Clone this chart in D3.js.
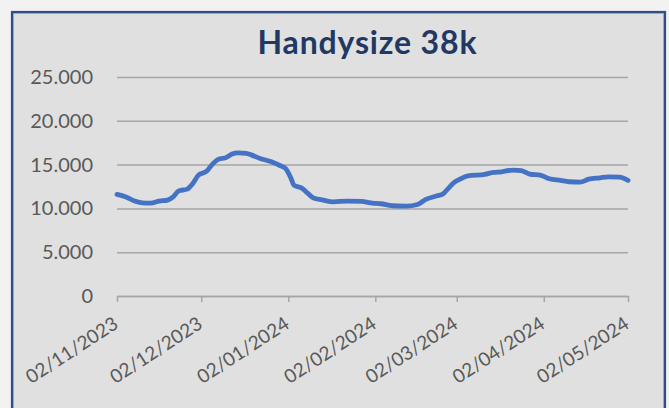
<!DOCTYPE html>
<html>
<head>
<meta charset="utf-8">
<script src="https://cdn.jsdelivr.net/npm/d3@7/dist/d3.min.js"></script>
<style>
  html, body { margin: 0; padding: 0; background: #f2f2f2; }
  svg { display: block; }
</style>
</head>
<body>
<svg id="chart" width="669" height="408"></svg>
<script>
const title = "Handysize 38k";
const dates = [
  "2023-11-02","2023-11-05","2023-11-08","2023-11-11","2023-11-14","2023-11-17","2023-11-20","2023-11-22",
  "2023-11-24","2023-11-27","2023-11-29","2023-12-01","2023-12-04","2023-12-06","2023-12-08","2023-12-11",
  "2023-12-13","2023-12-15","2023-12-18","2023-12-20","2023-12-23","2023-12-27","2023-12-30","2024-01-01",
  "2024-01-03","2024-01-04","2024-01-07","2024-01-09","2024-01-11","2024-01-14","2024-01-18","2024-01-23",
  "2024-01-28","2024-02-01","2024-02-04","2024-02-08","2024-02-13","2024-02-17","2024-02-20","2024-02-24",
  "2024-02-26","2024-02-28","2024-03-01","2024-03-03","2024-03-06","2024-03-12","2024-03-15","2024-03-18",
  "2024-03-22","2024-03-25","2024-03-28","2024-04-01","2024-04-04","2024-04-08","2024-04-11","2024-04-15",
  "2024-04-18","2024-04-22","2024-04-25","2024-04-29","2024-05-02"
];
const values = [
  11600,11320,10870,10640,10600,10830,10950,11320,
  12000,12200,12850,13800,14260,15060,15600,15830,
  16200,16330,16280,16080,15700,15320,14900,14570,
  13420,12660,12280,11710,11180,10980,10750,10830,
  10800,10600,10530,10300,10260,10450,11030,11440,
  11630,12280,12930,13310,13720,13880,14110,14180,
  14380,14300,13920,13770,13380,13200,13040,13000,
  13340,13490,13610,13570,13200
];
const yTicks = [0, 5000, 10000, 15000, 20000, 25000];
const xTickDates = ["2023-11-02","2023-12-02","2024-01-02","2024-02-02","2024-03-02","2024-04-02","2024-05-02"];

const parse = d3.timeParse("%Y-%m-%d");
const data = dates.map((d, i) => ({ date: parse(d), value: values[i] }));
const xTickVals = xTickDates.map(parse);

const svg = d3.select("#chart");

// chart frame
svg.append("rect").attr("x", 12).attr("y", 12).attr("width", 653).attr("height", 420)
  .attr("fill", "#e0e0e0").attr("stroke", "#2f4f86").attr("stroke-width", 2.2);
svg.append("rect").attr("x", 13.5).attr("y", 13.5).attr("width", 650).attr("height", 420)
  .attr("fill", "none").attr("stroke", "#6f8fc4").attr("stroke-width", 0.6);

const x = d3.scaleTime().domain([parse("2023-11-02"), parse("2024-05-02")]).range([117, 628]);
const y = d3.scaleLinear().domain([0, 25000]).range([296, 77]);

const fmt = v => v === 0 ? "0" : d3.format(",")(v).replace(/,/g, ".");

// gridlines + y labels
const yAxis = d3.axisLeft(y).tickValues(yTicks).tickSize(-(628 - 117)).tickFormat(fmt).tickPadding(24);
const gy = svg.append("g").attr("transform", "translate(117,0)").call(yAxis);
gy.select(".domain").remove();
gy.selectAll(".tick line").attr("stroke", "#a6a6a6").attr("stroke-width", 1.5);
gy.selectAll(".tick text").attr("fill", "#595959").style("font-family", "Lato, 'Open Sans', sans-serif").style("font-size", "20px");

// x axis
const xAxis = d3.axisBottom(x).tickValues(xTickVals).tickSize(6).tickSizeOuter(0).tickFormat(d3.timeFormat("%d/%m/%Y"));
const gx = svg.append("g").attr("transform", "translate(0,296)").call(xAxis);
gx.select(".domain").attr("stroke", "#a6a6a6").attr("stroke-width", 1.5);
gx.selectAll(".tick line").attr("stroke", "#a6a6a6").attr("stroke-width", 1.5);
gx.selectAll(".tick text")
  .attr("fill", "#595959")
  .style("font-family", "Lato, 'Open Sans', sans-serif").style("font-size", "19px")
  .attr("text-anchor", "end")
  .attr("dy", "0")
  .attr("y", 0)
  .attr("transform", "translate(2,31) rotate(-33)");

// line
const line = d3.line().x(d => x(d.date)).y(d => y(d.value)).curve(d3.curveMonotoneX);
svg.append("path").datum(data).attr("d", line)
  .attr("fill", "none").attr("stroke", "#4472c4").attr("stroke-width", 4.8)
  .attr("stroke-linecap", "round").attr("stroke-linejoin", "round");

// title
svg.append("text").attr("x", 367).attr("y", 54).attr("text-anchor", "middle")
  .attr("fill", "#1f3864").style("font-family", "Lato, 'Open Sans', sans-serif")
  .style("font-weight", "bold").style("font-size", "32px")
  .attr("textLength", 219).attr("lengthAdjust", "spacing").text(title);
</script>
</body>
</html>
